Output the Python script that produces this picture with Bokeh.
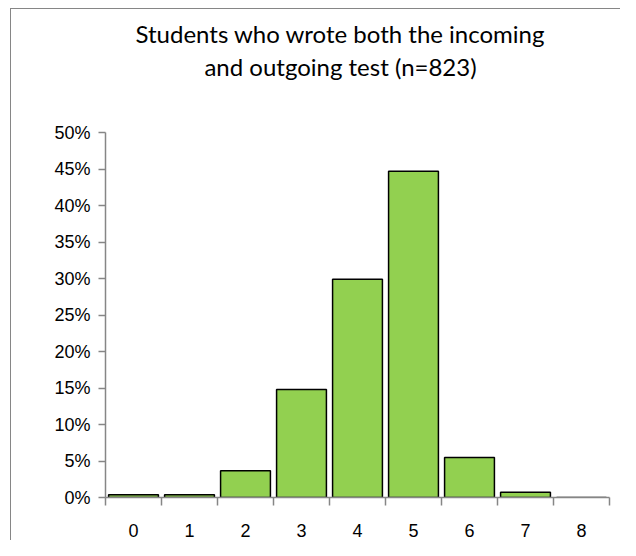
from bokeh.plotting import figure
from bokeh.models import FixedTicker, NumeralTickFormatter, Range1d
from bokeh.core.properties import value
from bokeh.embed import file_html
from bokeh.resources import INLINE

scores = ["0", "1", "2", "3", "4", "5", "6", "7", "8"]
shares = [0.0036, 0.0036, 0.0365, 0.148, 0.299, 0.447, 0.0547, 0.0073, 0.0]
y_ticks = [0.0, 0.05, 0.10, 0.15, 0.20, 0.25, 0.30, 0.35, 0.40, 0.45, 0.50]
title_lines = ["Students who wrote both the incoming", "and outgoing test (n=823)"]

centers = [i + 0.5 for i in range(len(scores))]
bounds = [float(i) for i in range(len(scores) + 1)]

# geometry (canvas pixels)
canvas_w, canvas_h = 620, 540
frame_left, frame_right = 105, 609
axis_top_px, axis_bottom_px = 132, 497
frame_top_px = 8
px_per_unit = (axis_bottom_px - axis_top_px) / 0.5
y_end = (axis_bottom_px - frame_top_px) / px_per_unit

p = figure(width=canvas_w, height=canvas_h, output_backend="svg", toolbar_location=None,
           title=None,
           x_range=Range1d(0, len(scores)), y_range=Range1d(0, y_end),
           min_border_left=frame_left, min_border_right=canvas_w - frame_right,
           min_border_top=frame_top_px, min_border_bottom=canvas_h - axis_bottom_px)
p.outline_line_color = None
p.border_fill_color = None
p.background_fill_color = None
p.xgrid.grid_line_color = None
p.ygrid.grid_line_color = None
p.styles = {"box-shadow": ("inset 10px 0 0 white, inset 0 8px 0 white, "
                           "inset 11px 0 0 #868686, inset 0 9px 0 #868686")}

p.vbar(x=centers, top=shares, width=0.89, fill_color="#92D050",
       line_color="black", line_width=1.5)

axis_col = "#868686"
xa = p.xaxis[0]
xa.ticker = FixedTicker(ticks=centers, minor_ticks=bounds)
xa.major_label_overrides = {c: s for c, s in zip(centers, scores)}
xa.major_tick_out = 0
xa.major_tick_in = 0
xa.minor_tick_out = 8
xa.minor_tick_in = 0
xa.minor_tick_line_color = axis_col
xa.minor_tick_line_width = 1.5
xa.axis_line_color = axis_col
xa.axis_line_width = 1.5
xa.major_label_standoff = 18
xa.major_label_text_font = "Liberation Sans"
xa.major_label_text_font_size = "18px"
xa.major_label_text_color = "black"

ya = p.yaxis[0]
ya.ticker = FixedTicker(ticks=y_ticks)
ya.bounds = (0, 0.5)
ya.formatter = NumeralTickFormatter(format="0%")
ya.major_tick_out = 7
ya.major_tick_in = 0
ya.minor_tick_line_color = None
ya.major_tick_line_color = axis_col
ya.major_tick_line_width = 1.5
ya.axis_line_color = axis_col
ya.axis_line_width = 1.5
ya.major_label_standoff = 8
ya.major_label_text_font = "Liberation Sans"
ya.major_label_text_font_size = "18px"
ya.major_label_text_color = "black"

# two-line title, centred, drawn inside the (extended) frame
title_center_px = 340
title_line_px = [33, 66]
tx = (title_center_px - frame_left) / 56.0
ty = [0.5 + (axis_top_px - yp) / px_per_unit for yp in title_line_px]
p.text(x=[tx, tx], y=ty, text=title_lines, text_align="center",
       text_baseline="middle", text_font=value("Lato"), text_font_size="24px",
       text_color="black")

open("out.html", "w").write(file_html(p, INLINE))
